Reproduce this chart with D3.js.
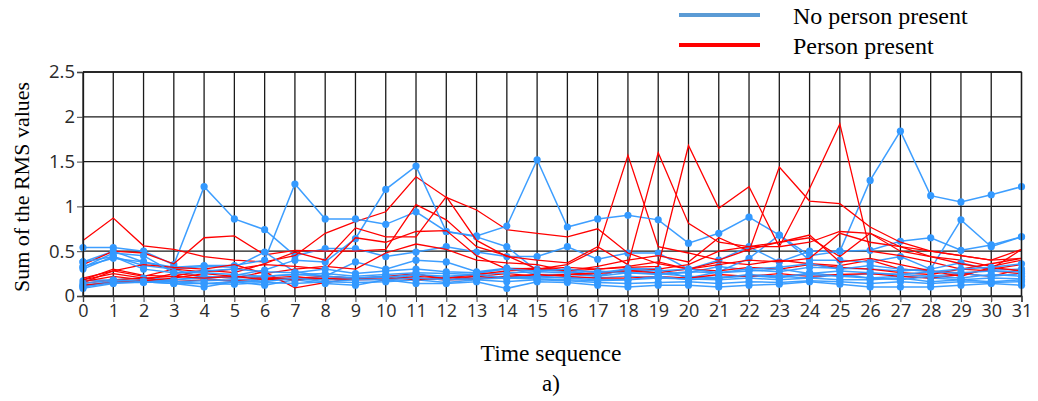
<!DOCTYPE html>
<html><head><meta charset="utf-8">
<script src="https://cdn.jsdelivr.net/npm/d3@7"></script>
<style>body{margin:0;background:#fff;} svg{display:block;}</style>
</head><body>
<svg id="chart" width="1038" height="401"></svg>
<script>
const timeSteps = d3.range(0, 32);
const yTicks = [0, 0.5, 1, 1.5, 2, 2.5];
const yTickLabels = ["0", "0.5", "1", "1.5", "2", "2.5"];
const legendLabels = ["No person present", "Person present"];

// No person present (blue, with markers)
const noPerson = [
 [0.54,0.54,0.50,0.35,1.22,0.86,0.74,0.45,0.53,0.53,0.44,0.49,0.55,0.49,0.44,0.44,0.55,0.41,0.48,0.48,0.30,0.40,0.55,0.38,0.50,0.50,0.51,0.61,0.65,0.51,0.57,0.66],
 [0.38,0.50,0.38,0.32,0.34,0.34,0.40,1.25,0.86,0.86,0.80,0.94,0.72,0.66,0.55,0.28,0.29,0.22,0.31,0.30,0.20,0.27,0.42,0.68,0.40,0.40,0.38,0.44,0.30,0.85,0.55,0.66],
 [0.33,0.42,0.38,0.30,0.20,0.23,0.29,0.40,0.38,0.64,1.19,1.45,0.72,0.67,0.78,1.52,0.77,0.86,0.90,0.85,0.59,0.70,0.88,0.68,0.45,0.50,1.29,1.84,1.12,1.05,1.13,1.22],
 [0.30,0.44,0.34,0.30,0.33,0.32,0.49,0.27,0.22,0.38,0.30,0.40,0.38,0.27,0.31,0.30,0.27,0.22,0.31,0.25,0.26,0.33,0.29,0.27,0.32,0.31,0.30,0.28,0.30,0.37,0.29,0.30],
 [0.17,0.18,0.20,0.18,0.20,0.16,0.18,0.18,0.22,0.20,0.18,0.24,0.20,0.25,0.31,0.24,0.24,0.22,0.26,0.25,0.22,0.20,0.23,0.20,0.26,0.22,0.25,0.24,0.22,0.25,0.22,0.25],
 [0.11,0.17,0.16,0.14,0.10,0.16,0.12,0.18,0.14,0.12,0.18,0.14,0.14,0.16,0.085,0.16,0.15,0.12,0.10,0.12,0.12,0.10,0.12,0.13,0.16,0.13,0.10,0.10,0.10,0.12,0.14,0.12],
 [0.085,0.14,0.16,0.14,0.14,0.13,0.15,0.14,0.16,0.15,0.16,0.18,0.15,0.18,0.16,0.18,0.17,0.15,0.14,0.15,0.16,0.14,0.16,0.15,0.17,0.16,0.14,0.16,0.14,0.16,0.15,0.16],
 [0.12,0.16,0.18,0.16,0.17,0.18,0.19,0.20,0.18,0.20,0.22,0.20,0.18,0.20,0.22,0.20,0.21,0.20,0.22,0.20,0.20,0.21,0.22,0.22,0.20,0.24,0.20,0.22,0.20,0.18,0.20,0.19],
 [0.10,0.15,0.15,0.18,0.22,0.20,0.22,0.24,0.25,0.22,0.24,0.26,0.25,0.24,0.26,0.27,0.26,0.28,0.26,0.24,0.27,0.26,0.28,0.30,0.25,0.28,0.26,0.24,0.27,0.26,0.28,0.27],
 [0.32,0.48,0.45,0.26,0.28,0.30,0.27,0.26,0.30,0.25,0.28,0.30,0.27,0.26,0.30,0.28,0.30,0.26,0.30,0.28,0.30,0.26,0.30,0.32,0.36,0.30,0.34,0.30,0.27,0.30,0.32,0.36],
 [0.38,0.44,0.30,0.26,0.26,0.24,0.22,0.24,0.22,0.20,0.21,0.24,0.22,0.24,0.20,0.22,0.20,0.18,0.18,0.22,0.18,0.20,0.24,0.22,0.24,0.22,0.20,0.18,0.22,0.20,0.24,0.22],
 [0.14,0.18,0.16,0.16,0.14,0.16,0.16,0.20,0.16,0.18,0.18,0.20,0.18,0.19,0.20,0.19,0.18,0.17,0.18,0.20,0.19,0.18,0.20,0.18,0.20,0.18,0.18,0.20,0.16,0.18,0.16,0.18]
];

// Person present (red, no markers)
const person = [
 [0.62,0.87,0.56,0.52,0.44,0.40,0.38,0.45,0.70,0.83,0.94,1.33,1.10,0.96,0.74,0.70,0.66,0.75,0.48,0.36,0.30,0.38,0.35,0.40,0.36,0.34,0.40,0.30,0.28,0.25,0.22,0.30],
 [0.35,0.50,0.48,0.36,0.65,0.67,0.46,0.51,0.50,0.50,0.52,1.02,0.85,0.55,0.45,0.30,0.35,0.52,1.57,0.55,0.48,0.40,0.52,0.60,0.65,0.44,0.70,0.55,0.44,0.40,0.33,0.40],
 [0.18,0.30,0.23,0.22,0.29,0.26,0.36,0.49,0.40,0.76,0.66,0.66,1.11,0.62,0.44,0.40,0.37,0.55,0.35,1.60,0.81,0.60,0.55,0.55,1.20,1.92,0.50,0.45,0.38,0.30,0.36,0.42],
 [0.15,0.28,0.22,0.30,0.27,0.30,0.35,0.33,0.30,0.65,0.60,0.72,0.73,0.45,0.30,0.31,0.28,0.30,0.32,0.33,1.68,0.98,1.22,0.55,0.60,0.72,0.70,0.50,0.44,0.36,0.30,0.52],
 [0.20,0.28,0.35,0.32,0.30,0.35,0.25,0.30,0.33,0.30,0.48,0.58,0.52,0.40,0.37,0.35,0.28,0.33,0.40,0.45,0.38,0.65,0.50,1.44,1.06,1.03,0.77,0.60,0.50,0.45,0.40,0.42],
 [0.16,0.22,0.18,0.25,0.22,0.20,0.27,0.09,0.15,0.20,0.22,0.25,0.18,0.22,0.25,0.22,0.24,0.25,0.28,0.30,0.35,0.50,0.55,0.60,0.68,0.38,0.42,0.35,0.28,0.22,0.32,0.28],
 [0.14,0.18,0.20,0.16,0.18,0.17,0.20,0.22,0.18,0.20,0.21,0.18,0.20,0.22,0.20,0.22,0.24,0.26,0.28,0.26,0.30,0.28,0.32,0.30,0.35,0.32,0.30,0.26,0.24,0.30,0.28,0.25],
 [0.12,0.15,0.17,0.20,0.25,0.22,0.20,0.18,0.20,0.18,0.19,0.20,0.18,0.19,0.22,0.24,0.22,0.20,0.20,0.22,0.20,0.24,0.22,0.25,0.22,0.24,0.25,0.22,0.20,0.24,0.30,0.35],
 [0.18,0.25,0.20,0.22,0.20,0.22,0.18,0.20,0.22,0.20,0.18,0.22,0.20,0.24,0.28,0.30,0.32,0.30,0.33,0.38,0.30,0.35,0.40,0.38,0.42,0.70,0.60,0.55,0.50,0.45,0.40,0.52]
];

const svg = d3.select("#chart");
const x = d3.scaleLinear().domain([0, 31]).range([83, 1021.5]);
const y = d3.scaleLinear().domain([0, 2.5]).range([296, 72]);
const BLUE = "#3399ff", RED = "#ff0000";

// grid
const g = svg.append("g");
g.selectAll("line.v").data(timeSteps).join("line")
  .attr("x1", d => x(d)).attr("x2", d => x(d))
  .attr("y1", y(2.5)).attr("y2", y(0))
  .attr("stroke", "#1a1a1a").attr("stroke-width", 1.3);
g.selectAll("line.h").data(yTicks).join("line")
  .attr("x1", x(0)).attr("x2", x(31))
  .attr("y1", d => y(d)).attr("y2", d => y(d))
  .attr("stroke", "#1a1a1a").attr("stroke-width", 1.3);

const line = d3.line().x((d, i) => x(timeSteps[i])).y(d => y(d));

// interleave series draw order
const all = [];
const n = Math.max(noPerson.length, person.length);
for (let i = 0; i < n; i++) {
  if (i < noPerson.length) all.push({type: "b", vals: noPerson[i]});
  if (i < person.length) all.push({type: "r", vals: person[i]});
}
const plot = svg.append("g");
all.forEach(s => {
  if (s.type === "b") {
    plot.append("path").attr("d", line(s.vals)).attr("fill", "none")
      .attr("stroke", BLUE).attr("stroke-width", 1.5).attr("opacity", 0.95);
    plot.selectAll(null).data(s.vals).join("circle")
      .attr("cx", (d, i) => x(timeSteps[i])).attr("cy", d => y(d))
      .attr("r", 3.6).attr("fill", BLUE);
  } else {
    plot.append("path").attr("d", line(s.vals)).attr("fill", "none")
      .attr("stroke", RED).attr("stroke-width", 1.3);
  }
});

// axes
const yAxis = d3.axisLeft(y).tickValues(yTicks).tickFormat((d, i) => yTickLabels[i]).tickSize(6).tickPadding(2);
const ya = svg.append("g").attr("transform", `translate(${x(0)},0)`).call(yAxis);
ya.select(".domain").attr("stroke", "#1a1a1a").attr("stroke-width", 1.3);
ya.selectAll(".tick line").attr("stroke", "#444");
ya.selectAll("text").attr("font-family", "'Open Sans', sans-serif").attr("font-size", 18.5).attr("fill", "#2a2a2a");

const xAxis = d3.axisBottom(x).tickValues(timeSteps).tickFormat(d3.format("d")).tickSize(6).tickPadding(2);
const xa = svg.append("g").attr("transform", `translate(0,${y(0)})`).call(xAxis);
xa.select(".domain").attr("stroke", "#1a1a1a").attr("stroke-width", 1.3);
xa.selectAll(".tick line").attr("stroke", "#444");
xa.selectAll("text").attr("font-family", "'Open Sans', sans-serif").attr("font-size", 18).attr("fill", "#2a2a2a");

// border
svg.append("line").attr("x1", x(0)).attr("x2", x(31)).attr("y1", y(2.5)).attr("y2", y(2.5)).attr("stroke", "#1a1a1a").attr("stroke-width", 1.3);
svg.append("line").attr("x1", x(31)).attr("x2", x(31)).attr("y1", y(2.5)).attr("y2", y(0)).attr("stroke", "#1a1a1a").attr("stroke-width", 1.3);

// titles
svg.append("text").attr("transform", "translate(29,187) rotate(-90)").attr("text-anchor", "middle")
  .attr("font-family", "'Liberation Serif', serif").attr("font-size", 22).attr("fill", "#000")
  .text("Sum of the RMS values");
svg.append("text").attr("x", 551).attr("y", 361).attr("text-anchor", "middle")
  .attr("font-family", "'Liberation Serif', serif").attr("font-size", 23.5).attr("fill", "#000")
  .text("Time sequence");
svg.append("text").attr("x", 551).attr("y", 391).attr("text-anchor", "middle")
  .attr("font-family", "'Liberation Serif', serif").attr("font-size", 23).attr("fill", "#000")
  .text("a)");

// legend
const legColors = ["#5b9bd5", "#ff0000"];
const leg = svg.append("g");
legendLabels.forEach((lab, i) => {
  const ly = 15 + i * 30;
  leg.append("line").attr("x1", 679).attr("x2", 760).attr("y1", ly).attr("y2", ly)
    .attr("stroke", legColors[i]).attr("stroke-width", 4);
  leg.append("text").attr("x", 793).attr("y", ly + 9)
    .attr("font-family", "'Liberation Serif', serif").attr("font-size", 24).attr("fill", "#000")
    .text(lab);
});
</script>
</body></html>
